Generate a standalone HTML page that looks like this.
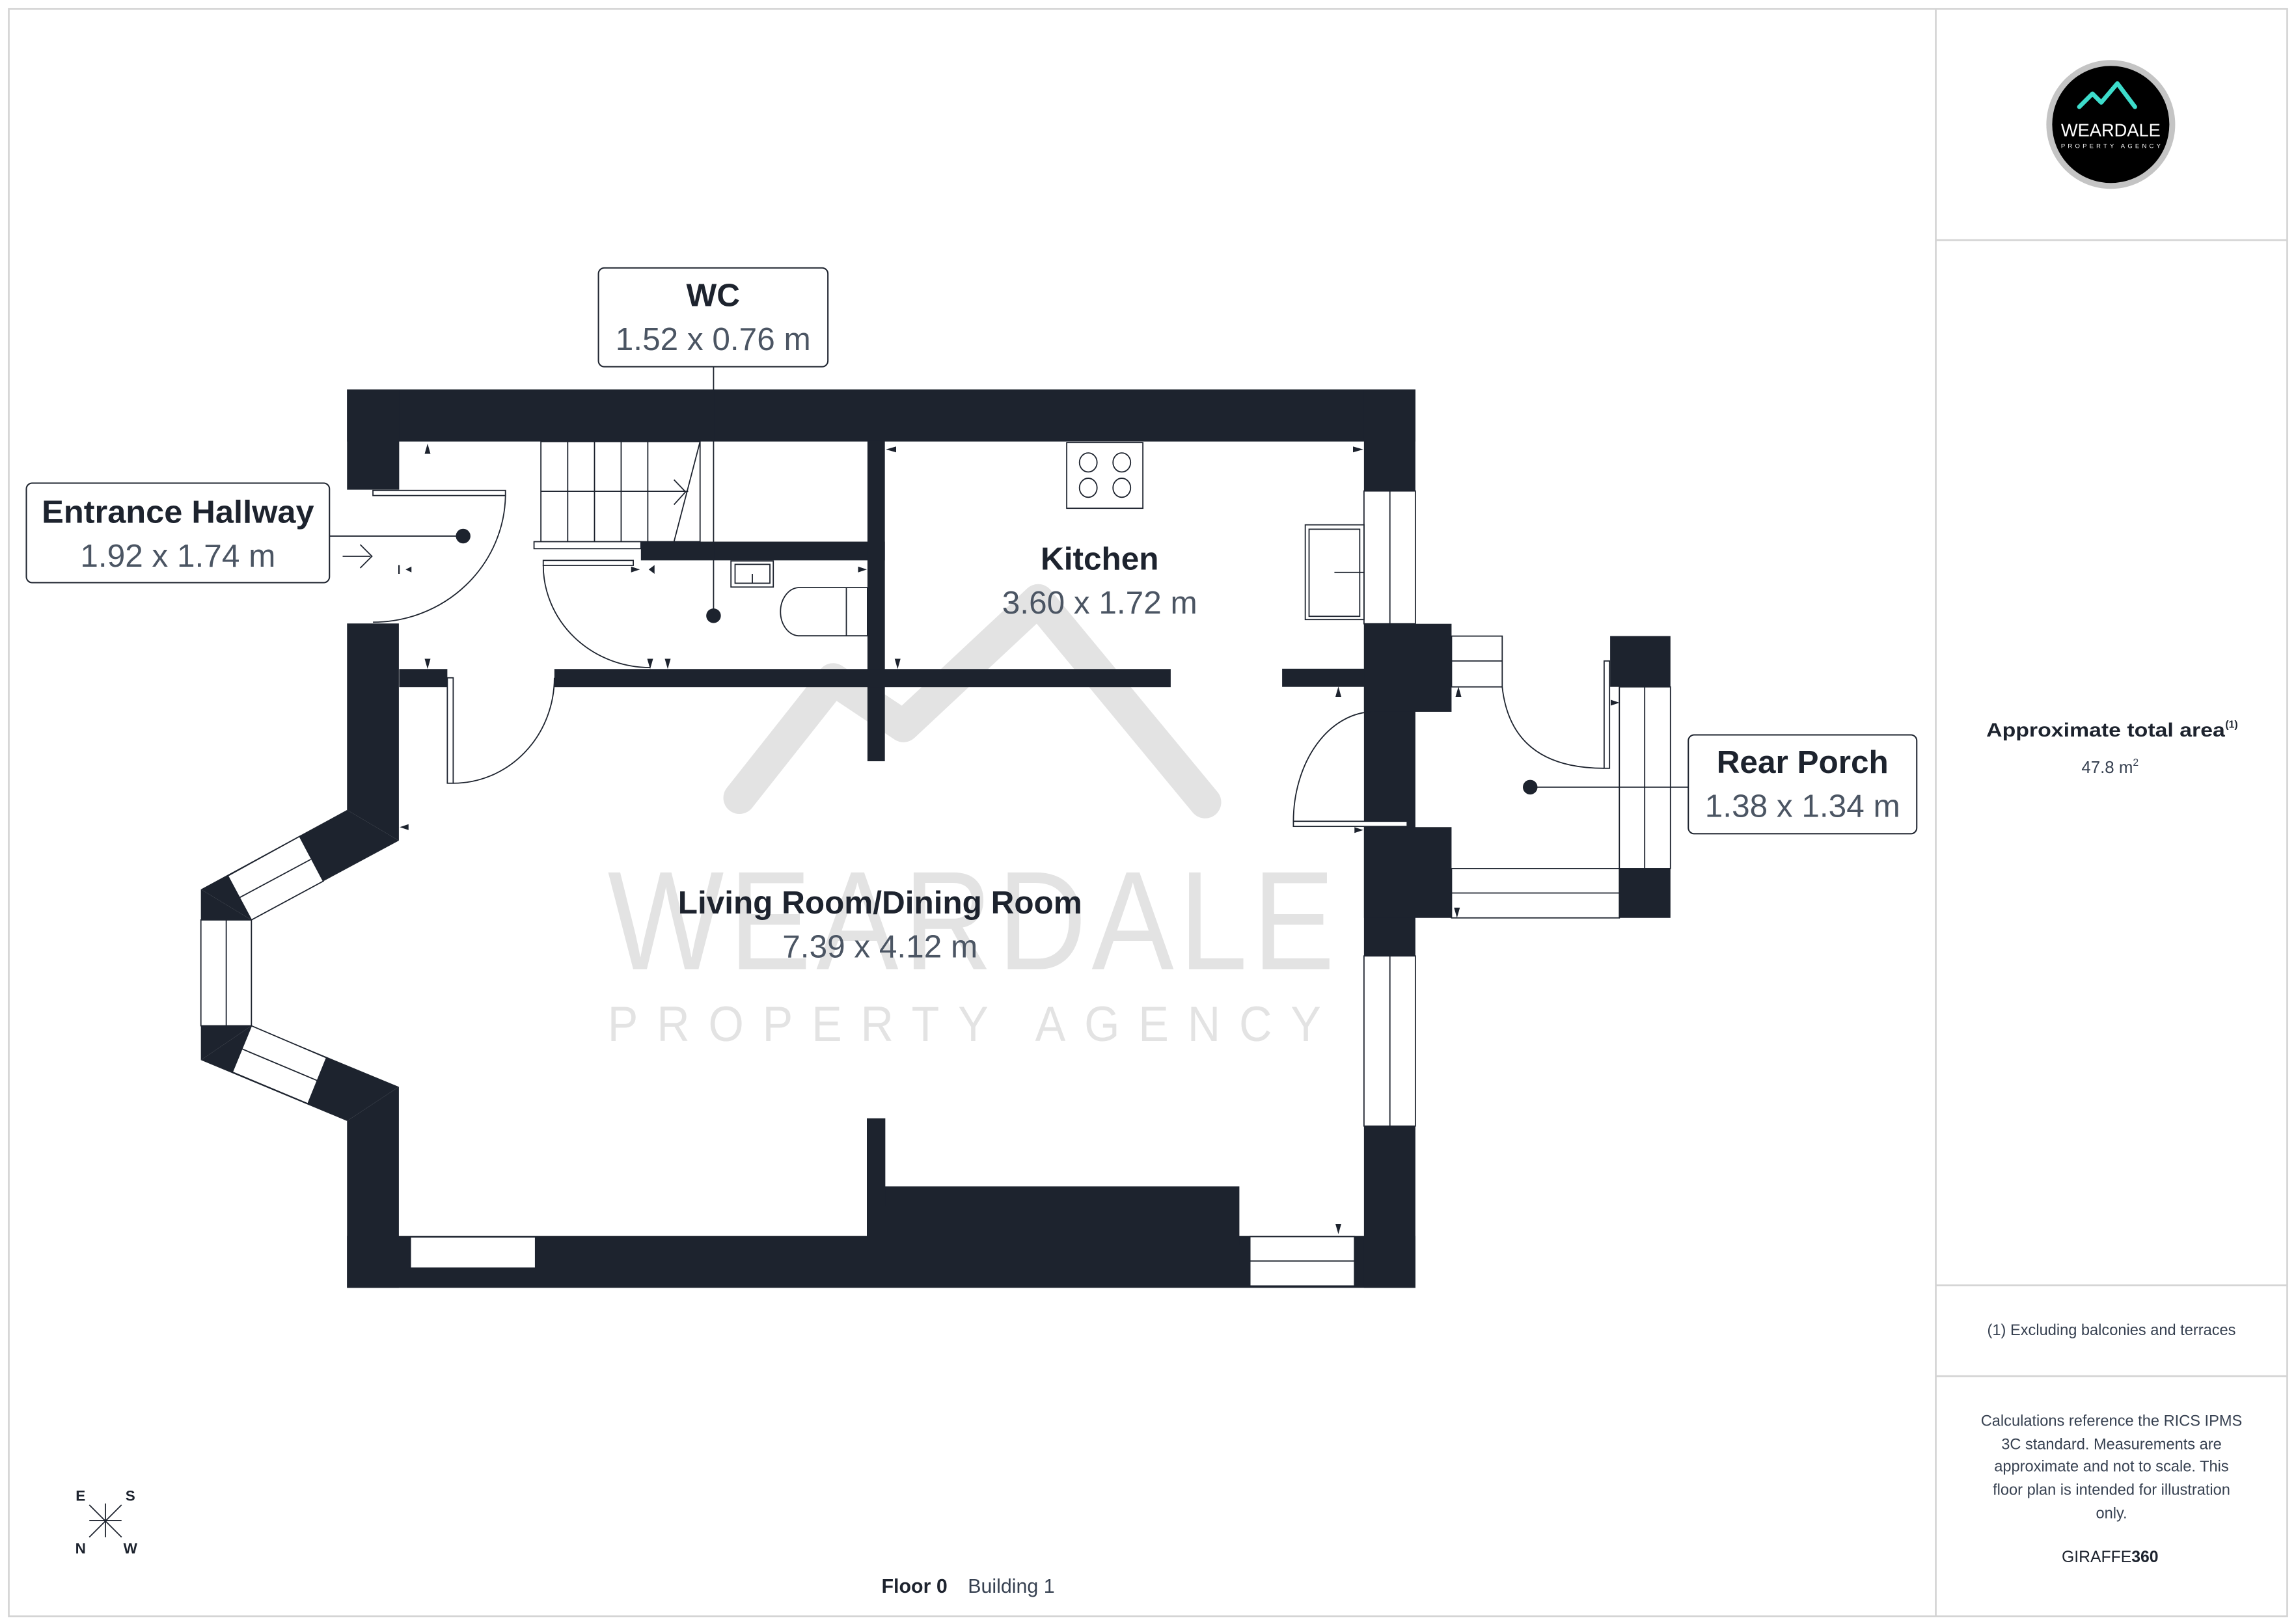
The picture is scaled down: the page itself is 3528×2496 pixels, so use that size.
<!DOCTYPE html>
<html><head><meta charset="utf-8"><style>
html,body{margin:0;padding:0;background:#fff;}
svg{display:block;}
text{font-family:"Liberation Sans",sans-serif;}
</style></head><body>
<svg width="3528" height="2496" viewBox="0 0 1568 1109.33" xmlns="http://www.w3.org/2000/svg">
<rect x="0" y="0" width="1568" height="1109.33" fill="#fff"/>
<!-- frame -->
<rect x="6" y="6" width="1556" height="1098" fill="none" stroke="#d4d4d4" stroke-width="1.2"/>
<line x1="1322" y1="6" x2="1322" y2="1104" stroke="#d4d4d4" stroke-width="1.2"/>
<line x1="1322" y1="164" x2="1562" y2="164" stroke="#d4d4d4" stroke-width="1.2"/>
<line x1="1322" y1="878" x2="1562" y2="878" stroke="#d4d4d4" stroke-width="1.2"/>
<line x1="1322" y1="940" x2="1562" y2="940" stroke="#d4d4d4" stroke-width="1.2"/>

<!-- logo -->
<circle cx="1441.5" cy="85" r="44" fill="#c4c4c4"/>
<circle cx="1441.5" cy="85" r="40" fill="#000"/>
<polyline points="1420,73 1429,64 1435,70 1446,57 1458,73" fill="none" stroke="#3ddccb" stroke-width="3" stroke-linecap="round" stroke-linejoin="round"/>
<text x="1441.5" y="93" font-size="12.5" fill="#fff" text-anchor="middle" textLength="68" lengthAdjust="spacingAndGlyphs">WEARDALE</text>
<text x="1441.5" y="101" font-size="4.2" fill="#fff" text-anchor="middle" textLength="68" lengthAdjust="spacing">PROPERTY AGENCY</text>

<!-- watermark -->
<polyline points="505,545 569,464 617,496 709,410 823,548" fill="none" stroke="#e3e3e3" stroke-width="22" stroke-linecap="round" stroke-linejoin="round"/>
<text x="665" y="662" font-size="96" fill="#e3e3e3" text-anchor="middle" letter-spacing="4" textLength="500" lengthAdjust="spacingAndGlyphs">WEARDALE</text>
<text x="665" y="711" font-size="34" fill="#e3e3e3" text-anchor="middle" letter-spacing="14" textLength="500" lengthAdjust="spacingAndGlyphs">PROPERTY AGENCY</text>

<g fill="#1d232e">
<!-- top wall -->
<rect x="237" y="266" width="729.6" height="35.6"/>
<!-- left wall top -->
<rect x="237" y="266" width="35.6" height="68.5"/>
<!-- left wall below entrance door -->
<polygon points="237,425.9 272.4,425.9 272.4,574.2 237,553.3"/>
<!-- bay -->
<polygon points="237,553.3 272.4,574.2 171.7,628.4 137.2,607.5"/>
<polygon points="137.2,607.5 171.7,628.4 171.7,700.7 137.2,724.1"/>
<polygon points="171.7,700.7 272.4,742.4 237,765.7 137.2,724.1"/>
<polygon points="272.4,742.4 272.4,879.7 237,879.7 237,765.7"/>
<!-- bottom wall -->
<rect x="237" y="844.3" width="729.6" height="35.4"/>
<rect x="592" y="810.4" width="254.4" height="40"/>
<rect x="592" y="763.9" width="12.6" height="60"/>
<!-- right wall -->
<rect x="931.5" y="266" width="35.1" height="613.7"/>
<rect x="931.5" y="426.1" width="59.8" height="60.1"/>
<rect x="931.5" y="565" width="59.8" height="62"/>
<!-- porch right wall -->
<rect x="1099.6" y="434.5" width="41.2" height="34.7"/>
<rect x="1105.9" y="469" width="34.9" height="158"/>
<!-- interior walls -->
<rect x="437.7" y="370" width="166.6" height="12.8"/>
<rect x="592.4" y="301" width="11.9" height="219"/>
<rect x="378.6" y="457" width="420.9" height="12.4"/>
<rect x="272.6" y="457" width="32.9" height="12.4"/>
<rect x="875.6" y="456.8" width="56" height="12.4"/>
</g>

<g fill="#fff" stroke="#1d232e" stroke-width="0.8">
<!-- bay windows -->
<polygon points="155.6,598.3 204.6,571.3 220.8,601.9 171.7,628.4"/>
<line x1="163.5" y1="613.2" x2="212.3" y2="587"/>
<rect x="137.2" y="628.4" width="34.5" height="72.3"/>
<line x1="154.5" y1="628.4" x2="154.5" y2="700.7"/>
<polygon points="171.7,700.7 223,722.6 210.3,753.9 158.7,732.3"/>
<line x1="165.5" y1="716.6" x2="217.1" y2="738.3"/>
<!-- bottom windows -->
<rect x="280.3" y="845" width="85.4" height="21.2"/>
<rect x="853.6" y="844.7" width="71.4" height="33.7"/>
<line x1="853.6" y1="861.4" x2="925" y2="861.4"/>
<!-- right wall windows -->
<rect x="931.5" y="335.4" width="35.1" height="90.7"/>
<line x1="949.2" y1="335.4" x2="949.2" y2="426.1"/>
<rect x="931.5" y="653" width="35.1" height="116.2"/>
<line x1="949.2" y1="653" x2="949.2" y2="769.2"/>
<!-- porch windows -->
<rect x="991.3" y="434.5" width="34.6" height="34.7"/>
<line x1="991.3" y1="451.5" x2="1025.9" y2="451.5"/>
<rect x="1105.9" y="469.2" width="34.9" height="124.1"/>
<line x1="1123.2" y1="469.2" x2="1123.2" y2="593.3"/>
<rect x="991.3" y="593.3" width="114.6" height="33.7"/>
<line x1="991.3" y1="610" x2="1105.9" y2="610"/>
<!-- stairs -->
<rect x="369.4" y="301.6" width="108.7" height="68.4" fill="none"/>
<line x1="387.7" y1="301.6" x2="387.7" y2="370"/>
<line x1="406" y1="301.6" x2="406" y2="370"/>
<line x1="424.2" y1="301.6" x2="424.2" y2="370"/>
<line x1="442.4" y1="301.6" x2="442.4" y2="370"/>
<line x1="369.4" y1="335.6" x2="470" y2="335.6"/>
<line x1="478.1" y1="301.6" x2="460.3" y2="370"/>
<polyline points="460.3,327.7 468.2,336 460.3,344.7" fill="none"/>
<rect x="364.7" y="370" width="73" height="4.8"/>
<rect x="371" y="382.8" width="61.5" height="3.4"/>
<!-- doors -->
<rect x="254.7" y="335" width="90.5" height="3.5"/>
<path d="M345.2,338.5 A90.5,88 0 0 1 254.7,425" fill="none"/>
<path d="M371,386 A73,70 0 0 0 444,456" fill="none"/>
<rect x="305.5" y="463" width="4" height="72"/>
<path d="M309.5,535 A69,72 0 0 0 378.6,463" fill="none"/>
<rect x="883.3" y="561" width="77.7" height="3.5"/>
<path d="M938,486.2 A55,75 0 0 0 883.3,561" fill="none"/>
<rect x="1095.5" y="451.5" width="3.7" height="73.3"/>
<path d="M1025.9,469.2 Q1032,524.8 1095.5,524.8" fill="none"/>
<!-- fixtures -->
<rect x="728.5" y="302.3" width="52" height="44.9"/>
<ellipse cx="743.2" cy="315.9" rx="6" ry="6.5"/>
<ellipse cx="766.1" cy="315.9" rx="6" ry="6.5"/>
<ellipse cx="743.2" cy="333.2" rx="6" ry="6.5"/>
<ellipse cx="766.1" cy="333.2" rx="6" ry="6.5"/>
<rect x="891.4" y="358.5" width="40.1" height="64.7"/>
<rect x="894" y="361.5" width="34.6" height="59.5"/>
<line x1="911.3" y1="391" x2="931.5" y2="391"/>
<rect x="499.2" y="383.2" width="28.9" height="17.8"/>
<rect x="502" y="385.5" width="23.8" height="12.9"/>
<line x1="513.8" y1="392" x2="513.8" y2="398.4"/>
<path d="M592.4,401.4 L545,401.4 A13,16.5 0 0 0 545,434.3 L592.4,434.3 Z"/>
<line x1="578" y1="401.4" x2="578" y2="434.3"/>
</g>

<!-- small markers -->
<g fill="#1d232e">
<polygon points="292,303 290,310 294,310"/>
<polygon points="292,457 290,450 294,450"/>
<polygon points="444,457 442,450 446,450"/>
<polygon points="456,457 454,450 458,450"/>
<polygon points="613,457 611,450 615,450"/>
<polygon points="605,307 612,305 612,309"/>
<polygon points="931,307 924,305 924,309"/>
<polygon points="277,389 281,387 281,391"/>
<rect x="272" y="386" width="1" height="6"/>
<polygon points="437,389 431,387 431,391"/>
<polygon points="443,389 447,386 447,392"/>
<polygon points="592,389 586,387 586,391"/>
<polygon points="914,469 912,476 916,476"/>
<polygon points="996,469 994,476 998,476"/>
<polygon points="1106,480 1100,478 1100,482"/>
<polygon points="931,567 925,565 925,569"/>
<polygon points="995,627 993,620 997,620"/>
<polygon points="914,843 912,836 916,836"/>
<polygon points="273,565 279,563 279,567"/>
</g>

<!-- label connectors -->
<g stroke="#1d232e" stroke-width="0.8" fill="none">
<line x1="487.3" y1="250.5" x2="487.3" y2="420"/>
<line x1="225" y1="366.2" x2="316" y2="366.2"/>
<line x1="1045" y1="537.7" x2="1153" y2="537.7"/>
<polyline points="234,380 253,380"/><polyline points="246,372 254,380 246,388"/>
</g>
<g fill="#1d232e">
<circle cx="487.3" cy="420.6" r="5"/>
<circle cx="316.3" cy="366.2" r="5"/>
<circle cx="1045" cy="537.7" r="5"/>
</g>

<!-- label boxes -->
<g fill="#fff" stroke="#1d232e" stroke-width="0.9">
<rect x="408.7" y="183" width="156.7" height="67.5" rx="4"/>
<rect x="18" y="330" width="207" height="68" rx="4"/>
<rect x="1153" y="502" width="156" height="67.5" rx="4"/>
</g>
<g text-anchor="middle">
<text x="487" y="209" font-size="22" font-weight="bold" fill="#1d232e">WC</text>
<text x="487" y="239" font-size="22" fill="#4b5563">1.52 x 0.76 m</text>
<text x="121.5" y="357" font-size="22" font-weight="bold" fill="#1d232e" textLength="186" lengthAdjust="spacingAndGlyphs">Entrance Hallway</text>
<text x="121.5" y="387" font-size="22" fill="#4b5563">1.92 x 1.74 m</text>
<text x="1231" y="528" font-size="22" font-weight="bold" fill="#1d232e">Rear Porch</text>
<text x="1231" y="558" font-size="22" fill="#4b5563">1.38 x 1.34 m</text>
<text x="751" y="389" font-size="22" font-weight="bold" fill="#1d232e">Kitchen</text>
<text x="751" y="419" font-size="22" fill="#4b5563">3.60 x 1.72 m</text>
<text x="601" y="624" font-size="22" font-weight="bold" fill="#1d232e" textLength="276" lengthAdjust="spacingAndGlyphs">Living Room/Dining Room</text>
<text x="601" y="654" font-size="22" fill="#4b5563">7.39 x 4.12 m</text>
</g>

<!-- right panel text -->
<g text-anchor="middle" fill="#1d232e">
<text x="1438" y="503" font-size="13" font-weight="bold" textLength="163" lengthAdjust="spacingAndGlyphs">Approximate total area</text>
<text x="1524" y="497" font-size="7" font-weight="bold">(1)</text>
<text x="1441" y="528" font-size="11.5" fill="#374151">47.8 m<tspan font-size="7" dy="-5">2</tspan></text>
<text x="1442" y="912" font-size="10.5" fill="#374151">(1) Excluding balconies and terraces</text>
<g font-size="10.5" fill="#374151">
<text x="1442" y="974">Calculations reference the RICS IPMS</text>
<text x="1442" y="990">3C standard. Measurements are</text>
<text x="1442" y="1005">approximate and not to scale. This</text>
<text x="1442" y="1021">floor plan is intended for illustration</text>
<text x="1442" y="1037">only.</text>
</g>
<text x="1441" y="1067" font-size="11">GIRAFFE<tspan font-weight="bold">360</tspan></text>
</g>

<!-- bottom -->
<text x="602" y="1088" font-size="13.5" font-weight="bold" fill="#1d232e">Floor 0</text>
<text x="661" y="1088" font-size="13.5" fill="#374151">Building 1</text>

<!-- compass -->
<g stroke="#1d232e" stroke-width="0.8">
<line x1="61" y1="1028" x2="83" y2="1050"/>
<line x1="83" y1="1028" x2="61" y2="1050"/>
<line x1="72" y1="1027" x2="72" y2="1050"/>
<line x1="61" y1="1038.7" x2="83" y2="1038.7"/>
</g>
<g font-size="10" font-weight="bold" fill="#1d232e" text-anchor="middle">
<text x="55" y="1025">E</text>
<text x="89" y="1025">S</text>
<text x="55" y="1061">N</text>
<text x="89" y="1061">W</text>
</g>
</svg>
</body></html>
